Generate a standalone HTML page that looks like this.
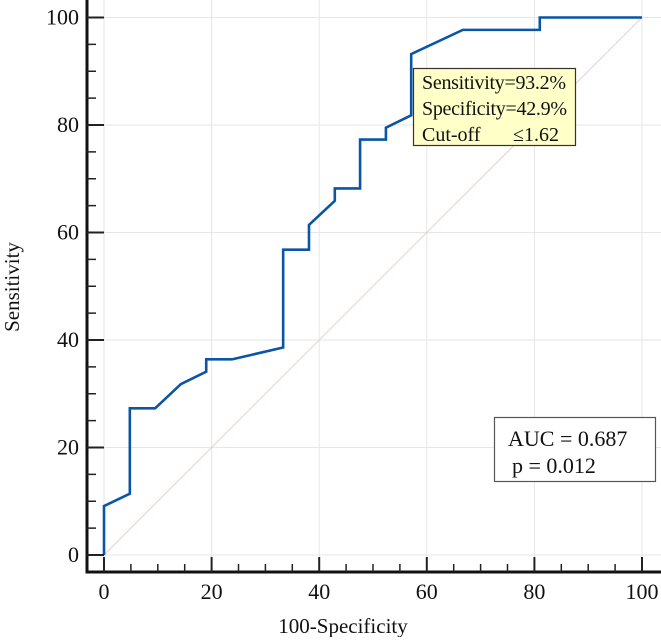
<!DOCTYPE html>
<html><head><meta charset="utf-8"><style>
body{margin:0;background:#fff;}
svg text{font-family:"Liberation Serif",serif;fill:#111;}
</style></head><body>
<svg id="chart" width="661" height="637" xmlns="http://www.w3.org/2000/svg">
<g id="grid"></g>
<line id="diag" stroke="#e2c4c4" stroke-width="0.8"/>
<polyline id="roc" fill="none" stroke="#0a55a5" stroke-width="2.6" stroke-linejoin="miter"/>
<g id="axes"></g>
<g>
<rect x="413.5" y="68.5" width="162" height="77" fill="#ffffc8" stroke="#333" stroke-width="1.2"/>
<text x="422" y="89" font-size="20" textLength="144">Sensitivity=93.2%</text>
<text x="422" y="115" font-size="20" textLength="145">Specificity=42.9%</text>
<text x="422" y="141" font-size="20">Cut-off</text>
<text x="513" y="141" font-size="20">≤1.62</text>
</g>
<g>
<rect x="494.5" y="417.5" width="161" height="64" fill="#fff" stroke="#555" stroke-width="1.2"/>
<text x="508" y="446" font-size="22">AUC = 0.687</text>
<text x="512" y="473" font-size="22">p = 0.012</text>
</g>
<text x="343" y="633" font-size="21" text-anchor="middle">100-Specificity</text>
<text transform="translate(19,287) rotate(-90)" font-size="21" text-anchor="middle">Sensitivity</text>
</svg>
<script>
const fpr = [0,0,4.8,4.8,9.5,14.3,19,19,23.8,33.3,33.3,38.1,38.1,42.9,42.9,47.6,47.6,52.4,52.4,57.1,57.1,66.7,81,81,100];
const tpr = [0,9.1,11.4,27.3,27.3,31.8,34.1,36.4,36.4,38.6,56.8,56.8,61.4,65.9,68.2,68.2,77.3,77.3,79.5,81.8,93.2,97.7,97.7,100,100];
const majorTicks = [0,20,40,60,80,100];
const minorTicks = [5,10,15,25,30,35,45,50,55,65,70,75,85,90,95];
const NS="http://www.w3.org/2000/svg";
const sx=v=>104+v*5.38, sy=v=>555-v*5.375;
function mk(tag,attrs,parent){const e=document.createElementNS(NS,tag);for(const k in attrs)e.setAttribute(k,attrs[k]);parent.appendChild(e);return e;}
const grid=document.getElementById('grid'), axes=document.getElementById('axes');
majorTicks.forEach(t=>{
  const gv=mk('line',{x1:sx(t),x2:sx(t),y1:0,y2:572,stroke:'#e6e6e6','stroke-width':1},grid);
  
  
  const gh=mk('line',{x1:87,x2:661,y1:sy(t),y2:sy(t),stroke:'#e6e6e6','stroke-width':1},grid);
  
  
});
const d=document.getElementById('diag');
d.setAttribute('x1',sx(0));d.setAttribute('y1',sy(0));d.setAttribute('x2',sx(100));d.setAttribute('y2',sy(100));
document.getElementById('roc').setAttribute('points',fpr.map((f,i)=>sx(f)+','+sy(tpr[i])).join(' '));
mk('line',{x1:87,x2:87,y1:0,y2:573.5,stroke:'#111','stroke-width':3},axes);
mk('line',{x1:85.5,x2:661,y1:572,y2:572,stroke:'#111','stroke-width':3},axes);
majorTicks.forEach(t=>{
  mk('line',{x1:sx(t),x2:sx(t),y1:557,y2:572,stroke:'#222','stroke-width':2},axes);
  mk('line',{x1:87,x2:104,y1:sy(t),y2:sy(t),stroke:'#222','stroke-width':2},axes);
  const xl=mk('text',{x:sx(t),y:599,'font-size':22,'text-anchor':'middle'},axes);
  xl.textContent=t;
  
  
  const yl=mk('text',{x:79,y:sy(t)+7,'font-size':22,'text-anchor':'end'},axes);
  yl.textContent=t;
  
  
});
minorTicks.forEach(t=>{
  mk('line',{x1:sx(t),x2:sx(t),y1:564,y2:572,stroke:'#222','stroke-width':1.5},axes);
  mk('line',{x1:87,x2:96,y1:sy(t),y2:sy(t),stroke:'#222','stroke-width':1.5},axes);
});
</script>
</body></html>
